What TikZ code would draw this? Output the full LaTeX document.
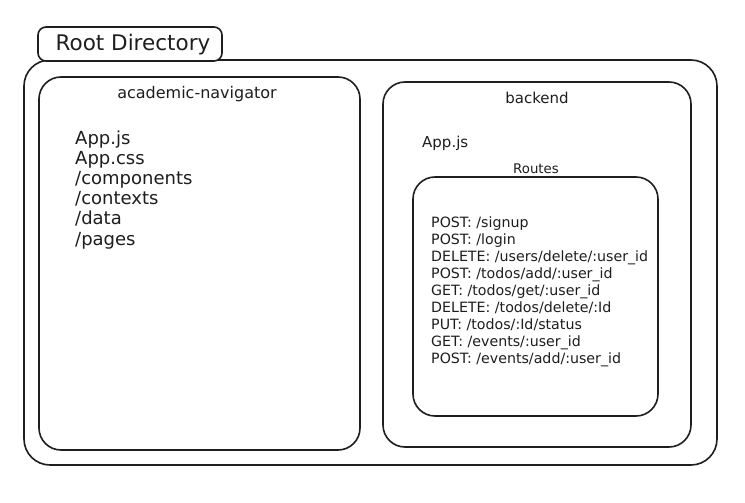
\documentclass[tikz,border=0pt]{standalone}
\usepackage{fontspec}
\setmainfont{DejaVu Sans}
\definecolor{ink}{HTML}{1E1E1E}
\tikzset{
  box/.style={draw=ink, line width=1.6pt, rounded corners=#1, anchor=north west, inner sep=0pt, outer sep=0pt},
  box/.default=20pt,
  txt/.style={anchor=base west, inner sep=0pt, text=ink},
  ctxt/.style={anchor=base, inner sep=0pt, text=ink},
}
\newcommand{\fs}[1]{\fontsize{#1}{#1}\selectfont}
\begin{document}
\begin{tikzpicture}[x=1pt,y=-1pt]
\useasboundingbox[fill=white] (0,0) rectangle (745,503);
% outer box
\node[box=26pt, minimum width=693pt, minimum height=405pt] (outer) at (24,60) {};
% root label box
\node[box=8pt, fill=white, minimum width=184pt, minimum height=34pt] (rootbox) at (38,27) {};
\node[ctxt, font=\fs{21.5}] (roottxt) at (133,51) {Root Directory};
% academic-navigator
\node[box=22pt, minimum width=321pt, minimum height=373pt] (acad) at (39,77) {};
\node[ctxt, font=\fs{16}] (acadtxt) at (197,99) {academic-navigator};
\foreach \t [count=\i from 0] in {App.js, App.css, /components, /contexts, /data, /pages}{
  \node[txt, font=\fs{18}] (al\i) at (75,{144+20.2*\i}) {\t};
}
% backend
\node[box=22pt, minimum width=308pt, minimum height=365pt] (back) at (383,82) {};
\node[ctxt, font=\fs{15}] (backtxt) at (537,103) {backend};
\node[txt, font=\fs{15}] (bapp) at (422,147) {App.js};
\node[ctxt, font=\fs{13.3}] (routestxt) at (536,173) {Routes};
% routes
\node[box=22pt, minimum width=245pt, minimum height=239pt] (routes) at (413,177) {};
\foreach \t [count=\i from 0] in {POST: /signup, POST: /login, DELETE: /users/delete/:user\_id, POST: /todos/add/:user\_id, GET: /todos/get/:user\_id, DELETE: /todos/delete/:Id, PUT: /todos/:Id/status, GET: /events/:user\_id, POST: /events/add/:user\_id}{
  \node[txt, font=\fs{14.2}] (r\i) at (431,{227+17.1*\i}) {\t};
}
\end{tikzpicture}
\end{document}
